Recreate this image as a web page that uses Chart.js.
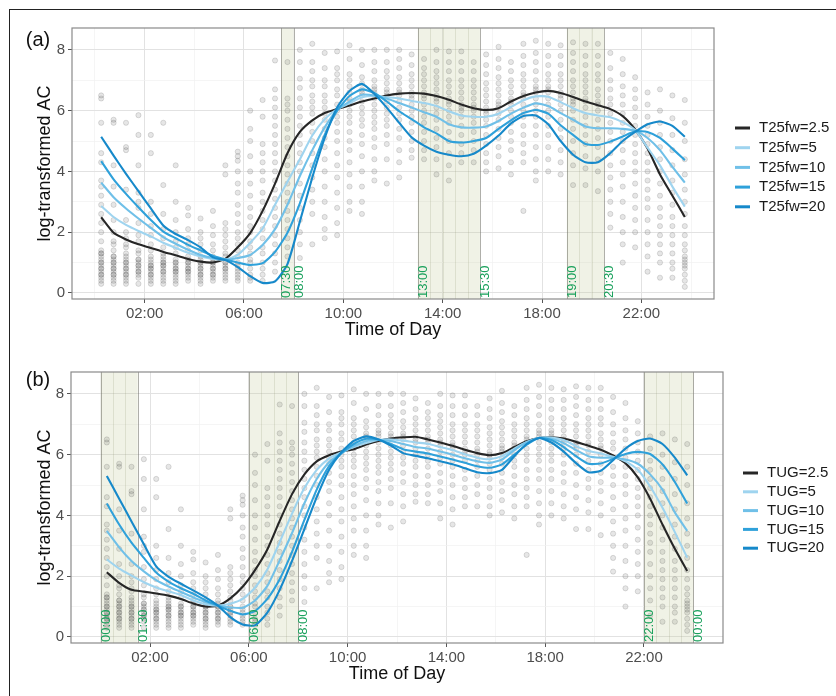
<!DOCTYPE html>
<html>
<head>
<meta charset="utf-8">
<script src="https://cdn.jsdelivr.net/npm/chart.js@4.4.1/dist/chart.umd.min.js"></script>
<style>
  body { margin: 0; background: #fff; }
  #page { position: relative; width: 836px; height: 696px; overflow: hidden; }
  #frame { position: absolute; left: 9px; top: 9px; width: 900px; height: 800px;
           border-left: 1.5px solid #222; border-top: 1.5px solid #222; }
  canvas { position: absolute; left: 0; }
  #chartA { top: 0; }
  #chartB { top: 345px; }
</style>
</head>
<body>
<div id="page">
  <div id="frame"></div>
  <canvas id="chartA" width="836" height="345"></canvas>
  <canvas id="chartB" width="836" height="351"></canvas>
</div>
<script>
// half-hour bins (hour of day, bin centre)
const binHours = [0.25, 0.75, 1.25, 1.75, 2.25, 2.75, 3.25, 3.75, 4.25, 4.75, 5.25, 5.75,
  6.25, 6.75, 7.25, 7.75, 8.25, 8.75, 9.25, 9.75, 10.25, 10.75, 11.25, 11.75,
  12.25, 12.75, 13.25, 13.75, 14.25, 14.75, 15.25, 15.75, 16.25, 16.75, 17.25, 17.75,
  18.25, 18.75, 19.25, 19.75, 20.25, 20.75, 21.25, 21.75, 22.25, 22.75, 23.25, 23.75];

// observed log-transformed activity counts, one list per bin (same data in both panels)
const activity = [
  [6.5, 6.4, 5.6, 4.6, 4.3, 3.7, 3.5, 3.2, 2.9, 2.6, 2.3, 2.0, 1.7, 1.4, 1.3, 1.3, 1.2, 1.1, 1.0, 1.0, 0.9, 0.8, 0.8, 0.7, 0.6, 0.6, 0.5, 0.4, 0.3],
  [5.7, 5.6, 4.2, 3.5, 2.9, 2.4, 2.0, 1.7, 1.6, 1.4, 1.2, 1.2, 1.1, 1.0, 1.0, 0.9, 0.8, 0.8, 0.7, 0.6, 0.6, 0.5, 0.4, 0.3],
  [5.6, 4.8, 4.7, 3.4, 2.4, 2.0, 1.8, 1.6, 1.5, 1.3, 1.2, 1.1, 1.0, 1.0, 0.9, 0.8, 0.8, 0.7, 0.6, 0.6, 0.5, 0.4, 0.3],
  [5.85, 5.2, 4.2, 3.3, 3.0, 2.8, 2.3, 1.9, 1.7, 1.4, 1.3, 1.1, 1.1, 1.0, 0.9, 0.9, 0.8, 0.7, 0.7, 0.6, 0.5, 0.3],
  [5.2, 4.6, 3.0, 2.6, 2.2, 1.9, 1.6, 1.4, 1.2, 1.1, 1.0, 0.9, 0.9, 0.8, 0.8, 0.7, 0.6, 0.6, 0.5, 0.4, 0.3],
  [5.6, 3.55, 2.6, 2.1, 1.8, 1.5, 1.3, 1.2, 1.1, 1.0, 1.0, 0.9, 0.9, 0.8, 0.7, 0.7, 0.6, 0.5, 0.4, 0.3],
  [4.2, 3.0, 2.4, 2.0, 1.7, 1.5, 1.3, 1.1, 1.0, 1.0, 0.9, 0.8, 0.8, 0.7, 0.7, 0.6, 0.5, 0.4, 0.3],
  [2.8, 2.55, 2.1, 1.8, 1.6, 1.4, 1.2, 1.1, 1.0, 1.0, 0.9, 0.8, 0.8, 0.7, 0.7, 0.6, 0.5, 0.4],
  [2.45, 2.0, 1.8, 1.6, 1.4, 1.2, 1.1, 1.0, 1.0, 0.9, 0.8, 0.8, 0.7, 0.6, 0.6, 0.5, 0.4, 0.3],
  [2.7, 2.2, 1.9, 1.6, 1.4, 1.2, 1.1, 1.0, 1.0, 0.9, 0.8, 0.8, 0.7, 0.6, 0.6, 0.5, 0.4],
  [4.2, 3.9, 2.3, 2.1, 1.9, 1.7, 1.5, 1.3, 1.2, 1.0, 1.0, 0.9, 0.8, 0.8, 0.7, 0.6, 0.5, 0.4],
  [4.65, 4.5, 4.35, 4.0, 3.6, 3.3, 2.9, 2.6, 2.3, 2.0, 1.8, 1.6, 1.4, 1.2, 1.0, 0.9, 0.8, 0.7, 0.6, 0.5, 0.4],
  [6.0, 5.4, 5.0, 4.5, 4.0, 3.6, 3.2, 2.8, 2.5, 2.2, 2.0, 1.7, 1.5, 1.3, 1.1, 1.0, 0.8, 0.6, 0.5, 0.4],
  [6.35, 5.8, 4.9, 4.6, 4.3, 4.0, 3.7, 3.3, 3.0, 2.7, 2.4, 2.1, 1.8, 1.5, 1.3, 1.0, 0.8, 0.6, 0.4],
  [7.65, 6.7, 6.4, 6.1, 5.8, 5.5, 5.2, 4.9, 4.6, 4.3, 4.0, 3.7, 3.4, 3.1, 2.8, 2.5, 2.2, 1.9, 1.6, 1.3, 1.0, 0.7],
  [7.6, 6.4, 6.2, 6.0, 5.7, 5.4, 5.1, 4.8, 4.5, 4.2, 3.9, 3.6, 3.3, 3.0, 2.7, 2.4, 2.1, 1.8, 1.5, 1.2],
  [8.0, 7.6, 7.05, 6.75, 6.4, 6.1, 5.8, 5.5, 5.2, 4.9, 4.6, 4.3, 4.0, 3.6, 3.2, 2.8, 2.4, 2.0, 1.6, 1.15],
  [8.2, 7.6, 7.3, 7.0, 6.8, 6.5, 6.3, 6.1, 5.9, 5.6, 5.3, 5.0, 4.6, 4.2, 3.8, 3.4, 3.0, 2.6, 1.6],
  [7.9, 7.4, 7.0, 6.8, 6.5, 6.3, 6.1, 5.9, 5.7, 5.4, 5.1, 4.8, 4.4, 4.0, 3.5, 3.0, 2.5, 2.1, 1.8],
  [7.95, 7.4, 7.2, 7.0, 6.7, 6.5, 6.2, 6.0, 5.8, 5.6, 5.3, 5.0, 4.6, 4.2, 3.8, 3.3, 2.8, 2.3, 1.9],
  [8.15, 7.7, 7.2, 7.0, 6.8, 6.6, 6.4, 6.3, 6.2, 6.0, 5.8, 5.6, 5.3, 5.0, 4.7, 4.3, 3.9, 3.5, 3.0, 2.7],
  [8.0, 7.5, 7.1, 6.9, 6.7, 6.6, 6.5, 6.3, 6.1, 5.9, 5.7, 5.5, 5.2, 4.9, 4.5, 4.0, 3.5, 3.0, 2.6],
  [8.0, 7.6, 7.3, 7.0, 6.8, 6.7, 6.6, 6.4, 6.2, 6.0, 5.8, 5.6, 5.4, 5.1, 4.8, 4.4, 4.0, 3.7],
  [8.0, 7.6, 7.3, 7.1, 6.9, 6.7, 6.6, 6.5, 6.3, 6.1, 5.9, 5.7, 5.5, 5.2, 4.9, 4.4, 3.6],
  [8.0, 7.7, 7.4, 7.1, 6.9, 6.7, 6.6, 6.5, 6.3, 6.1, 5.9, 5.7, 5.4, 5.1, 4.7, 4.3, 3.8],
  [7.85, 7.5, 7.2, 7.0, 6.8, 6.6, 6.5, 6.4, 6.2, 6.0, 5.8, 5.6, 5.3, 5.0, 4.7, 4.45],
  [7.7, 7.4, 7.2, 7.0, 6.8, 6.6, 6.5, 6.4, 6.2, 6.0, 5.8, 5.6, 5.3, 5.0, 4.7, 4.4],
  [8.0, 7.6, 7.3, 7.1, 6.9, 6.7, 6.5, 6.4, 6.3, 6.1, 5.9, 5.7, 5.4, 5.1, 4.8, 4.4, 3.9],
  [7.95, 7.6, 7.3, 7.0, 6.8, 6.6, 6.4, 6.3, 6.2, 6.0, 5.8, 5.6, 5.3, 5.0, 4.6, 4.2, 3.7],
  [7.95, 7.6, 7.3, 7.0, 6.8, 6.6, 6.4, 6.2, 6.1, 6.0, 5.8, 5.5, 5.2, 4.9, 4.6, 4.3],
  [7.6, 7.3, 7.0, 6.8, 6.6, 6.4, 6.2, 6.1, 6.0, 5.8, 5.6, 5.3, 5.0, 4.7, 4.3],
  [7.85, 7.5, 7.2, 6.9, 6.7, 6.5, 6.3, 6.1, 6.0, 5.9, 5.7, 5.5, 5.2, 4.9, 4.6, 4.3, 4.0],
  [8.1, 7.7, 7.4, 7.1, 6.9, 6.7, 6.5, 6.3, 6.2, 6.1, 5.9, 5.7, 5.4, 5.1, 4.8, 4.5, 4.1],
  [7.6, 7.3, 7.0, 6.8, 6.6, 6.4, 6.3, 6.2, 6.0, 5.8, 5.6, 5.3, 5.0, 4.7, 4.3, 3.9],
  [8.2, 7.8, 7.5, 7.2, 7.0, 6.8, 6.6, 6.5, 6.4, 6.2, 6.0, 5.8, 5.5, 5.2, 4.9, 4.6, 4.3, 2.7],
  [8.3, 7.9, 7.6, 7.3, 7.0, 6.8, 6.7, 6.6, 6.4, 6.2, 6.0, 5.8, 5.5, 5.2, 4.8, 4.4, 4.0, 3.7],
  [8.2, 7.8, 7.5, 7.2, 7.0, 6.8, 6.7, 6.6, 6.4, 6.2, 6.0, 5.8, 5.5, 5.2, 4.8, 4.4, 4.0],
  [8.15, 7.8, 7.5, 7.2, 7.0, 6.8, 6.6, 6.5, 6.4, 6.2, 6.0, 5.7, 5.4, 5.1, 4.7, 4.3, 3.9],
  [8.25, 7.9, 7.6, 7.3, 7.0, 6.8, 6.6, 6.4, 6.3, 6.2, 6.0, 5.7, 5.4, 5.0, 4.6, 4.2, 3.55],
  [8.2, 7.8, 7.5, 7.2, 7.0, 6.8, 6.6, 6.4, 6.3, 6.1, 5.8, 5.5, 5.2, 4.9, 4.5, 4.1, 3.55],
  [8.2, 7.8, 7.5, 7.2, 7.0, 6.7, 6.5, 6.3, 6.2, 6.0, 5.7, 5.4, 5.1, 4.8, 4.4, 4.0, 3.35],
  [7.9, 7.4, 7.0, 6.7, 6.4, 6.2, 5.9, 5.6, 5.3, 5.0, 4.6, 4.2, 3.8, 3.4, 3.0, 2.6, 2.15],
  [7.7, 7.2, 6.8, 6.5, 6.2, 5.9, 5.6, 5.3, 5.0, 4.7, 4.3, 3.9, 3.5, 3.0, 2.5, 2.0, 1.6, 1.0],
  [7.1, 6.7, 6.4, 6.1, 5.8, 5.5, 5.2, 4.9, 4.6, 4.3, 4.0, 3.6, 3.2, 2.8, 2.4, 2.0, 1.5],
  [6.6, 6.2, 5.8, 5.5, 5.2, 4.9, 4.6, 4.3, 4.0, 3.7, 3.4, 3.1, 2.8, 2.4, 2.0, 1.6, 1.2, 0.7],
  [6.7, 6.0, 5.6, 5.2, 4.8, 4.4, 4.0, 3.6, 3.2, 2.8, 2.5, 2.2, 1.9, 1.6, 1.3, 1.0, 0.5],
  [6.5, 5.75, 5.2, 4.7, 4.2, 3.7, 3.3, 2.9, 2.5, 2.2, 1.9, 1.6, 1.3, 1.0, 0.8, 0.5],
  [6.35, 5.6, 5.0, 4.4, 3.9, 3.4, 3.0, 2.6, 2.2, 1.9, 1.6, 1.4, 1.2, 1.1, 1.0, 0.9, 0.8, 0.6, 0.4, 0.2]
];

// panel (a): fitted curves, one value per bin
const t25fw25 = [2.49, 1.98, 1.76, 1.60, 1.48, 1.35, 1.24, 1.12, 1.03, 1.00, 1.12, 1.50, 1.97, 2.70, 3.60, 4.60, 5.30, 5.68, 5.92, 6.05, 6.17, 6.30, 6.40, 6.50, 6.56, 6.58, 6.56, 6.48, 6.36, 6.20, 6.08, 6.02, 6.08, 6.30, 6.48, 6.60, 6.65, 6.58, 6.45, 6.30, 6.18, 6.05, 5.82, 5.38, 4.75, 3.90, 3.20, 2.50];
const t25fw5 = [2.86, 2.50, 2.24, 2.04, 1.86, 1.65, 1.48, 1.32, 1.20, 1.12, 1.10, 1.25, 1.65, 2.12, 2.90, 3.66, 4.40, 5.18, 5.72, 6.05, 6.24, 6.44, 6.48, 6.44, 6.40, 6.32, 6.25, 6.15, 5.98, 5.84, 5.80, 5.80, 5.90, 6.12, 6.34, 6.47, 6.46, 6.28, 6.08, 5.92, 5.84, 5.78, 5.62, 5.36, 4.78, 4.20, 3.50, 2.84];
const t25fw10 = [3.63, 3.15, 2.78, 2.45, 2.14, 1.84, 1.62, 1.42, 1.25, 1.15, 1.10, 1.15, 1.25, 1.58, 2.10, 2.90, 3.85, 4.70, 5.45, 6.02, 6.30, 6.52, 6.50, 6.40, 6.25, 6.10, 5.95, 5.80, 5.55, 5.45, 5.44, 5.48, 5.66, 5.90, 6.10, 6.24, 6.15, 5.92, 5.70, 5.48, 5.42, 5.42, 5.40, 5.34, 5.10, 4.70, 4.15, 3.63];
const t25fw15 = [4.34, 3.74, 3.26, 2.82, 2.40, 2.02, 1.80, 1.58, 1.40, 1.22, 1.10, 1.00, 0.92, 0.98, 1.35, 1.98, 2.95, 4.10, 5.20, 6.00, 6.48, 6.70, 6.58, 6.30, 5.98, 5.72, 5.45, 5.25, 5.00, 4.95, 5.00, 5.10, 5.40, 5.68, 5.92, 6.02, 5.90, 5.52, 5.20, 4.90, 4.87, 4.98, 5.15, 5.32, 5.30, 5.10, 4.75, 4.37];
const t25fw20 = [5.14, 4.52, 3.92, 3.35, 2.78, 2.22, 1.94, 1.74, 1.50, 1.17, 1.08, 0.85, 0.55, 0.33, 0.38, 0.95, 2.35, 3.80, 5.10, 6.10, 6.65, 6.88, 6.55, 6.10, 5.60, 5.12, 4.85, 4.65, 4.55, 4.50, 4.58, 4.85, 5.18, 5.58, 5.82, 5.84, 5.55, 5.00, 4.55, 4.30, 4.30, 4.60, 5.00, 5.30, 5.55, 5.64, 5.50, 5.14];

// panel (b): fitted curves, one value per bin
const tug25 = [2.13, 1.78, 1.55, 1.49, 1.43, 1.36, 1.25, 1.10, 1.00, 1.03, 1.27, 1.65, 2.20, 2.88, 3.82, 4.70, 5.35, 5.78, 5.98, 6.10, 6.18, 6.33, 6.45, 6.53, 6.57, 6.59, 6.50, 6.40, 6.29, 6.16, 6.05, 5.98, 6.05, 6.25, 6.44, 6.55, 6.57, 6.53, 6.42, 6.29, 6.16, 5.97, 5.72, 5.25, 4.55, 3.70, 2.90, 2.17];
const tug5 = [2.55, 2.25, 2.02, 1.80, 1.63, 1.50, 1.38, 1.20, 1.08, 1.03, 1.09, 1.25, 1.62, 2.22, 3.12, 4.06, 4.90, 5.50, 5.88, 6.08, 6.25, 6.38, 6.48, 6.50, 6.46, 6.40, 6.36, 6.25, 6.15, 6.01, 5.90, 5.85, 5.95, 6.20, 6.42, 6.55, 6.56, 6.48, 6.28, 6.12, 6.04, 5.93, 5.78, 5.50, 4.95, 4.25, 3.45, 2.61];
const tug10 = [3.49, 2.95, 2.50, 2.16, 1.87, 1.66, 1.48, 1.30, 1.15, 1.03, 0.97, 0.96, 1.20, 1.68, 2.52, 3.42, 4.40, 5.20, 5.75, 6.05, 6.28, 6.45, 6.48, 6.45, 6.35, 6.25, 6.20, 6.10, 6.00, 5.88, 5.78, 5.73, 5.84, 6.15, 6.40, 6.55, 6.52, 6.38, 6.15, 5.95, 5.90, 5.90, 5.84, 5.70, 5.35, 4.85, 4.10, 3.49];
const tug15 = [4.39, 3.70, 3.10, 2.60, 2.12, 1.82, 1.60, 1.42, 1.20, 1.03, 0.86, 0.74, 0.85, 1.25, 1.90, 2.80, 3.85, 4.85, 5.62, 6.05, 6.35, 6.52, 6.50, 6.35, 6.18, 6.10, 6.04, 5.94, 5.84, 5.73, 5.62, 5.57, 5.68, 6.00, 6.33, 6.55, 6.48, 6.25, 5.95, 5.70, 5.71, 5.86, 6.02, 6.09, 6.02, 5.68, 5.10, 4.39];
const tug20 = [5.30, 4.55, 3.80, 3.05, 2.32, 1.98, 1.75, 1.53, 1.30, 1.03, 0.65, 0.41, 0.38, 0.80, 1.55, 2.50, 3.55, 4.60, 5.50, 6.08, 6.45, 6.60, 6.50, 6.30, 6.05, 5.96, 5.88, 5.78, 5.68, 5.55, 5.42, 5.39, 5.50, 5.95, 6.35, 6.55, 6.40, 6.10, 5.72, 5.42, 5.47, 5.82, 6.20, 6.45, 6.53, 6.35, 5.90, 5.32];

const seriesLabelsA = ['T25fw=2.5', 'T25fw=5', 'T25fw=10', 'T25fw=15', 'T25fw=20'];
const seriesLabelsB = ['TUG=2.5', 'TUG=5', 'TUG=10', 'TUG=15', 'TUG=20'];
const lineColors = ['#262626', '#9fd4ef', '#70c0e8', '#2fa1da', '#1689ca'];

// axes
const xGridHours = [0, 2, 4, 6, 8, 10, 12, 14, 16, 18, 20, 22, 24];
const xTickHours = [2, 6, 10, 14, 18, 22];
const xTickLabels = ['02:00', '06:00', '10:00', '14:00', '18:00', '22:00'];
const yGridValues = [0, 1, 2, 3, 4, 5, 6, 7, 8];
const yTickValues = [0, 2, 4, 6, 8];
const yTickLabels = ['0', '2', '4', '6', '8'];

// highlighted windows (start hour, end hour) and their labels
const shadeA = [[7.5, 8], [13, 15.5], [19, 20.5]];
const shadeLabelsA = ['07:30', '08:00', '13:00', '15:30', '19:00', '20:30'];
const shadeB = [[0, 1.5], [6, 8], [22, 24]];
const shadeLabelsB = ['00:00', '01:30', '06:00', '08:00', '22:00', '00:00'];

const FONT = "'Liberation Sans', Arial, Helvetica, sans-serif";
Chart.defaults.font.family = FONT;

function scatterPoints() {
  const pts = [];
  binHours.forEach((h, i) => activity[i].forEach(v => pts.push({ x: h, y: v })));
  return pts;
}

function curve(values) {
  return binHours.map((h, i) => ({ x: h, y: values[i] }));
}

const decorPlugin = {
  id: 'decor',
  beforeDatasetsDraw(chart, args, opts) {
    const { ctx, chartArea: a, scales: { x } } = chart;
    ctx.save();
    ctx.beginPath();
    ctx.rect(a.left, a.top, a.right - a.left, a.bottom - a.top);
    ctx.clip();
    opts.shades.forEach(([s, e]) => {
      const x0 = x.getPixelForValue(s), x1 = x.getPixelForValue(e);
      ctx.fillStyle = 'rgba(196, 204, 160, 0.26)';
      ctx.fillRect(x0, a.top, x1 - x0, a.bottom - a.top);
      ctx.strokeStyle = 'rgba(150, 155, 120, 0.22)';
      ctx.lineWidth = 1;
      for (let h = s + 0.5; h < e; h += 0.5) {
        const px = Math.round(x.getPixelForValue(h)) + 0.5;
        ctx.beginPath(); ctx.moveTo(px, a.top); ctx.lineTo(px, a.bottom); ctx.stroke();
      }
      ctx.strokeStyle = 'rgba(110, 110, 100, 0.55)';
      [x0, x1].forEach(p => {
        const px = Math.round(p) + 0.5;
        ctx.beginPath(); ctx.moveTo(px, a.top); ctx.lineTo(px, a.bottom); ctx.stroke();
      });
    });
    ctx.restore();
  },
  afterDatasetsDraw(chart, args, opts) {
    const { ctx, chartArea: a, scales: { x } } = chart;
    ctx.save();
    ctx.font = '13px ' + FONT;
    ctx.fillStyle = '#1aa15c';
    ctx.textAlign = 'left';
    ctx.textBaseline = 'top';
    const edges = opts.shades.flat();
    edges.forEach((h, i) => {
      ctx.save();
      ctx.translate(x.getPixelForValue(h) - 1, a.bottom - 1);
      ctx.rotate(-Math.PI / 2);
      ctx.fillText(opts.shadeLabels[i], 0, 0);
      ctx.restore();
    });
    ctx.restore();
  },
  afterDraw(chart, args, opts) {
    const { ctx, chartArea: a } = chart;
    ctx.save();
    // panel border
    ctx.strokeStyle = '#8a8a8a';
    ctx.lineWidth = 1.2;
    ctx.strokeRect(a.left, a.top, a.right - a.left, a.bottom - a.top);
    // legend
    ctx.font = '15px ' + FONT;
    ctx.textBaseline = 'middle';
    ctx.textAlign = 'left';
    const lines = chart.data.datasets.filter(d => d.showLine !== false);
    lines.forEach((d, i) => {
      const y = opts.legendY + i * opts.legendStep;
      ctx.strokeStyle = d.borderColor;
      ctx.lineWidth = 3;
      ctx.beginPath(); ctx.moveTo(opts.legendX, y); ctx.lineTo(opts.legendX + 15, y); ctx.stroke();
      ctx.fillStyle = '#1a1a1a';
      ctx.fillText(d.label, opts.legendX + 24, y);
    });
    // panel tag
    ctx.font = '20px ' + FONT;
    ctx.fillStyle = '#111';
    ctx.textAlign = 'center';
    ctx.fillText(opts.tag, 38, opts.tagY);
    ctx.restore();
  }
};

function makePanel(canvasId, series, labels, xMin, xMax, layout, decor) {
  const datasets = [{
    label: 'observed',
    data: scatterPoints(),
    showLine: false,
    pointRadius: 2.6,
    pointBackgroundColor: 'rgba(60, 60, 60, 0.13)',
    pointBorderColor: 'rgba(60, 60, 60, 0.2)',
    pointBorderWidth: 0.8,
    order: 10
  }];
  series.forEach((vals, i) => {
    datasets.push({
      label: labels[i],
      data: curve(vals),
      borderColor: lineColors[i],
      borderWidth: 2.1,
      pointRadius: 0,
      tension: 0.2,
      fill: false,
      order: 5 - i
    });
  });

  new Chart(document.getElementById(canvasId), {
    type: 'line',
    data: { datasets },
    options: {
      responsive: false,
      animation: false,
      events: [],
      devicePixelRatio: 1,
      layout: { padding: layout.padding },
      plugins: {
        legend: { display: false },
        tooltip: { enabled: false },
        decor
      },
      scales: {
        x: {
          type: 'linear',
          min: xMin,
          max: xMax,
          afterBuildTicks: s => { s.ticks = xGridHours.map(v => ({ value: v })); },
          afterFit: s => { s.height = layout.xHeight; },
          ticks: {
            autoSkip: false,
            maxRotation: 0,
            padding: 2,
            color: '#4d4d4d',
            font: { size: 15 },
            callback: v => {
              const i = xTickHours.indexOf(v);
              return i >= 0 ? xTickLabels[i] : '';
            }
          },
          grid: {
            color: c => xTickHours.includes(c.tick.value) ? '#e2e2e2' : '#f0f0f0',
            lineWidth: c => xTickHours.includes(c.tick.value) ? 1 : 0.7,
            tickLength: 4,
            tickWidth: 1,
            tickColor: c => xTickHours.includes(c.tick.value) ? '#555' : 'rgba(0,0,0,0)'
          },
          border: { display: false },
          title: {
            display: true,
            text: 'Time of Day',
            color: '#111',
            font: { size: 18 },
            padding: { top: 0, bottom: 4 }
          }
        },
        y: {
          min: -0.2,
          max: 8.72,
          afterBuildTicks: s => { s.ticks = yGridValues.map(v => ({ value: v })); },
          afterFit: s => { s.width = layout.yWidth; },
          ticks: {
            padding: 3,
            color: '#4d4d4d',
            font: { size: 15 },
            callback: v => {
              const i = yTickValues.indexOf(v);
              return i >= 0 ? yTickLabels[i] : '';
            }
          },
          grid: {
            color: c => yTickValues.includes(c.tick.value) ? '#e2e2e2' : '#f0f0f0',
            lineWidth: c => yTickValues.includes(c.tick.value) ? 1 : 0.7,
            tickLength: 4,
            tickWidth: 1,
            tickColor: c => yTickValues.includes(c.tick.value) ? '#555' : 'rgba(0,0,0,0)'
          },
          border: { display: false },
          title: {
            display: true,
            text: 'log-transformed AC',
            color: '#111',
            font: { size: 18 },
            padding: { top: 34, bottom: 0 }
          }
        }
      }
    },
    plugins: [decorPlugin]
  });
}

makePanel('chartA', [t25fw25, t25fw5, t25fw10, t25fw15, t25fw20], seriesLabelsA, -0.925, 24.925,
  { padding: { left: 0, top: 28, right: 122, bottom: 0 }, xHeight: 46, yWidth: 72 },
  { shades: shadeA, shadeLabels: shadeLabelsA, legendX: 735, legendY: 128, legendStep: 19.7, tag: '(a)', tagY: 40 });

makePanel('chartB', [tug25, tug5, tug10, tug15, tug20], seriesLabelsB, -1.2, 25.2,
  { padding: { left: 0, top: 27, right: 113, bottom: 7 }, xHeight: 46, yWidth: 71 },
  { shades: shadeB, shadeLabels: shadeLabelsB, legendX: 743, legendY: 128, legendStep: 18.8, tag: '(b)', tagY: 35 });
</script>
</body>
</html>
